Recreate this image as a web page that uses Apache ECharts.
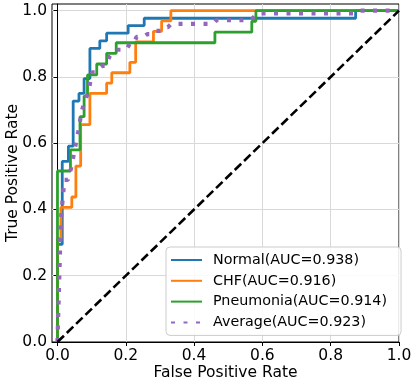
<!DOCTYPE html>
<html>
<head>
<meta charset="utf-8">
<script src="https://cdn.jsdelivr.net/npm/echarts@6/dist/echarts.min.js"></script>
<style>
  html, body { margin: 0; padding: 0; background: #fff; }
  #chart { width: 416px; height: 384px; }
</style>
</head>
<body>
<div id="chart"></div>
<script>
'use strict'

// ROC points
var normalFpr = [0, 0, 0.014, 0.014, 0.032, 0.032, 0.046, 0.046, 0.063, 0.063, 0.078, 0.078, 0.095, 0.095, 0.124, 0.124, 0.144, 0.144, 0.207, 0.207, 0.254, 0.254, 0.873, 0.873, 1];
var normalTpr = [0, 0.295, 0.295, 0.545, 0.545, 0.591, 0.591, 0.727, 0.727, 0.75, 0.75, 0.795, 0.795, 0.886, 0.886, 0.909, 0.909, 0.932, 0.932, 0.955, 0.955, 0.977, 0.977, 1, 1];

var chfFpr = [0, 0, 0.01, 0.01, 0.042, 0.042, 0.054, 0.054, 0.068, 0.068, 0.095, 0.095, 0.144, 0.144, 0.159, 0.159, 0.212, 0.212, 0.229, 0.229, 0.281, 0.281, 0.305, 0.305, 0.332, 0.332, 1];
var chfTpr = [0, 0.3125, 0.3125, 0.406, 0.406, 0.4375, 0.4375, 0.531, 0.531, 0.656, 0.656, 0.75, 0.75, 0.781, 0.781, 0.8125, 0.8125, 0.844, 0.844, 0.906, 0.906, 0.9375, 0.9375, 0.969, 0.969, 1, 1];

var pneuFpr = [0, 0, 0.038, 0.038, 0.066, 0.066, 0.078, 0.078, 0.088, 0.088, 0.115, 0.115, 0.144, 0.144, 0.172, 0.172, 0.461, 0.461, 0.569, 0.569, 0.581, 0.581, 1];
var pneuTpr = [0, 0.516, 0.516, 0.58, 0.58, 0.68, 0.68, 0.742, 0.742, 0.806, 0.806, 0.839, 0.839, 0.871, 0.871, 0.903, 0.903, 0.935, 0.935, 0.968, 0.968, 1, 1];

var avgFpr = [0, 0.0101, 0.0202, 0.0303, 0.0404, 0.0505, 0.0606, 0.0707, 0.0808, 0.0909, 0.101, 0.111, 0.121, 0.131, 0.141, 0.152, 0.162, 0.172, 0.202, 0.212, 0.222, 0.232, 0.253, 0.263, 0.273, 0.283, 0.303, 0.313, 0.323, 0.333, 0.455, 0.465, 0.566, 0.576, 0.586, 0.869, 0.879, 1];
var avgTpr = [0, 0.37, 0.489, 0.489, 0.526, 0.582, 0.634, 0.695, 0.73, 0.755, 0.814, 0.814, 0.825, 0.833, 0.833, 0.861, 0.872, 0.882, 0.882, 0.901, 0.901, 0.921, 0.921, 0.929, 0.929, 0.939, 0.939, 0.95, 0.95, 0.96, 0.96, 0.971, 0.971, 0.982, 0.992, 0.992, 1, 1];

var chanceFpr = [0, 1];
var chanceTpr = [0, 1];

var seriesNames = ['Normal(AUC=0.938)', 'CHF(AUC=0.916)', 'Pneumonia(AUC=0.914)', 'Average(AUC=0.923)'];
var tickValues = [0, 0.2, 0.4, 0.6, 0.8, 1.0];

function pairs(xs, ys) {
    var out = [];
    for (var i = 0; i < xs.length; i++) {
        out.push([xs[i], ys[i]]);
    }
    return out;
}

var FONT = 'DejaVu Sans';

var myChart = echarts.init(document.getElementById('chart'), null, {renderer: 'canvas'});

var option = {
    animation: false,
    backgroundColor: '#fff',
    grid: {
        left: 52, right: 17, top: 4, bottom: 42,
        containLabel: false,
        outerBoundsMode: 'none',
        show: true, borderColor: '#000', borderWidth: 1
    },
    xAxis: {
        type: 'value',
        min: -0.016, max: 1.0,
        name: 'False Positive Rate',
        nameLocation: 'middle',
        nameGap: 23,
        nameMoveOverlap: false,
        nameTextStyle: {fontFamily: FONT, fontSize: 15.5, color: '#000'},
        axisLine: {show: true, lineStyle: {color: '#000', width: 1}},
        axisTick: {show: true, inside: false, length: 4, lineStyle: {color: '#000'}, customValues: tickValues},
        axisLabel: {
            fontFamily: FONT, fontSize: 15.5, color: '#000', margin: 6,
            customValues: tickValues,
            formatter: function (v) { return v.toFixed(1); }
        },
        splitLine: {show: true, lineStyle: {color: '#d9d9d9', width: 1}}
    },
    yAxis: {
        type: 'value',
        min: 0, max: 1.02,
        name: 'True Positive Rate',
        nameLocation: 'middle',
        nameGap: 31,
        nameMoveOverlap: false,
        nameTextStyle: {fontFamily: FONT, fontSize: 15.5, color: '#000'},
        axisLine: {show: true, lineStyle: {color: '#000', width: 1}},
        axisTick: {show: true, inside: false, length: 4, lineStyle: {color: '#000'}, customValues: tickValues},
        axisLabel: {
            fontFamily: FONT, fontSize: 15.5, color: '#000', margin: 5,
            customValues: tickValues,
            formatter: function (v) { return v.toFixed(1); }
        },
        splitLine: {show: true, lineStyle: {color: '#d9d9d9', width: 1}}
    },
    legend: {
        orient: 'vertical',
        left: 166, top: 247,
        padding: [6, 14, 6, 4],
        itemWidth: 31, itemHeight: 14, itemGap: 6.8,
        itemStyle: {opacity: 0},
        backgroundColor: 'rgba(255,255,255,0.85)',
        borderColor: '#cccccc', borderWidth: 1, borderRadius: 4,
        textStyle: {fontFamily: FONT, fontSize: 14.3, color: '#000', padding: [0, 0, 0, 6]},
        data: seriesNames
    },
    series: [
        {
            name: seriesNames[0], type: 'line', symbol: 'none',
            data: pairs(normalFpr, normalTpr),
            lineStyle: {color: '#1f77b4', width: 2.8}, itemStyle: {color: '#1f77b4'}
        },
        {
            name: seriesNames[1], type: 'line', symbol: 'none',
            data: pairs(chfFpr, chfTpr),
            lineStyle: {color: '#ff7f0e', width: 2.8}, itemStyle: {color: '#ff7f0e'}
        },
        {
            name: seriesNames[2], type: 'line', symbol: 'none',
            data: pairs(pneuFpr, pneuTpr),
            lineStyle: {color: '#2ca02c', width: 2.8}, itemStyle: {color: '#2ca02c'}
        },
        {
            name: seriesNames[3], type: 'line', symbol: 'none',
            data: pairs(avgFpr, avgTpr),
            lineStyle: {color: '#9467bd', width: 4.2, type: [4, 8.5], cap: 'butt'}, itemStyle: {color: '#9467bd'}
        },
        {
            name: 'chance', type: 'line', symbol: 'none',
            data: pairs(chanceFpr, chanceTpr),
            lineStyle: {color: '#000', width: 2.6, type: [9, 4]}, itemStyle: {color: '#000'}
        }
    ]
};

myChart.setOption(option);
</script>
</body>
</html>
